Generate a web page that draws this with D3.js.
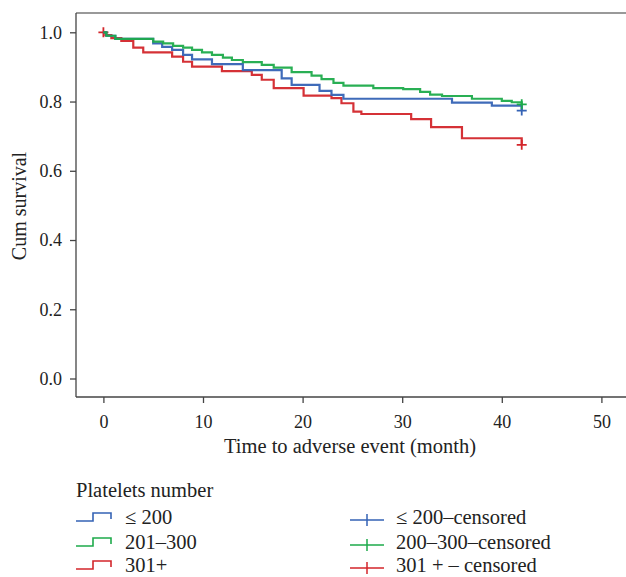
<!DOCTYPE html>
<html>
<head>
<meta charset="utf-8">
<script src="https://cdn.jsdelivr.net/npm/d3@7"></script>
<style>
  body { margin: 0; background: #fff; }
  svg text { font-family: "Liberation Serif", "DejaVu Serif", serif; fill: #222; }
</style>
</head>
<body>
<svg id="chart" width="626" height="577"></svg>
<script>
// time (month) at which each step happens, and the survival after it
var timeLow = [0, 0.3, 1.2, 5.0, 5.9, 6.9, 8.0, 8.9, 10.9, 14.0, 17.9, 18.9, 21.7, 22.9, 24.1, 35.0, 39.0, 42];
var survLow = [1.0, 0.990, 0.981, 0.968, 0.958, 0.949, 0.935, 0.922, 0.908, 0.891, 0.867, 0.848, 0.831, 0.819, 0.808, 0.797, 0.788, 0.774];

var timeMid = [0, 0.3, 1.2, 5.0, 6.0, 7.0, 8.0, 8.9, 9.9, 10.9, 12.0, 12.9, 14.0, 15.9, 17.1, 18.9, 20.9, 21.9, 23.1, 24.1, 27.1, 30.1, 31.8, 32.8, 34.0, 37.0, 40.0, 41.0, 42];
var survMid = [1.0, 0.990, 0.981, 0.973, 0.968, 0.961, 0.956, 0.949, 0.942, 0.935, 0.927, 0.920, 0.914, 0.906, 0.898, 0.885, 0.875, 0.865, 0.854, 0.846, 0.839, 0.836, 0.828, 0.820, 0.816, 0.808, 0.802, 0.798, 0.792];

var timeHigh = [0, 0.2, 0.8, 1.8, 3.0, 4.0, 6.9, 8.0, 8.9, 11.9, 14.9, 15.9, 17.1, 20.1, 22.9, 23.9, 25.1, 25.9, 30.9, 32.9, 36.0, 42];
var survHigh = [1.0, 0.992, 0.983, 0.975, 0.956, 0.942, 0.930, 0.915, 0.901, 0.888, 0.877, 0.863, 0.839, 0.817, 0.810, 0.795, 0.771, 0.764, 0.749, 0.726, 0.694, 0.675];

// censored marks
var censLowT = [42],  censLowS = [0.774];
var censMidT = [42],  censMidS = [0.792];
var censHighT = [0, 42], censHighS = [1.0, 0.675];

var groupNames = ["\u2264 200", "201\u2013300", "301+"];
var censorNames = ["\u2264 200\u2013censored", "200\u2013300\u2013censored", "301 + \u2013 censored"];
var colors = ["#3563b5", "#1eab4b", "#d3262b"];

var xTicks = [0, 10, 20, 30, 40, 50];
var yTicks = [0.0, 0.2, 0.4, 0.6, 0.8, 1.0];

var svg = d3.select("#chart");

var frameLeft = 76, frameRight = 626, frameTop = 13, frameBottom = 397;

var x = d3.scaleLinear().domain([0, 50]).range([103.4, 601.4]);
var y = d3.scaleLinear().domain([0, 1]).range([378.5, 32.3]);

// frame (no right border, lines run off the edge)
svg.append("line").attr("x1", frameLeft).attr("x2", frameRight).attr("y1", frameTop).attr("y2", frameTop)
  .attr("stroke", "#777").attr("stroke-width", 1.6);
svg.append("line").attr("x1", frameLeft).attr("x2", frameRight).attr("y1", frameBottom).attr("y2", frameBottom)
  .attr("stroke", "#444").attr("stroke-width", 1.3);
svg.append("line").attr("x1", frameLeft).attr("x2", frameLeft).attr("y1", frameTop).attr("y2", frameBottom)
  .attr("stroke", "#444").attr("stroke-width", 1.3);

// axes
var xAxis = d3.axisBottom(x).tickValues(xTicks).tickFormat(d3.format("d")).tickSize(6).tickPadding(12);
var gx = svg.append("g").attr("transform", "translate(0," + frameBottom + ")").call(xAxis);
gx.select(".domain").remove();
gx.selectAll("line").attr("stroke", "#444").attr("stroke-width", 1.3);
gx.selectAll("text").style("font-size", "18px").attr("fill", "#222");

var yAxis = d3.axisLeft(y).tickValues(yTicks).tickFormat(d3.format(".1f")).tickSize(6).tickPadding(8);
var gy = svg.append("g").attr("transform", "translate(" + frameLeft + ",0)").call(yAxis);
gy.select(".domain").remove();
gy.selectAll("line").attr("stroke", "#444").attr("stroke-width", 1.3);
gy.selectAll("text").style("font-size", "18px").attr("fill", "#222");

svg.append("text").attr("x", 350).attr("y", 453).attr("text-anchor", "middle")
  .style("font-size", "20.5px").text("Time to adverse event (month)");
svg.append("text").attr("transform", "translate(26,206) rotate(-90)").attr("text-anchor", "middle")
  .style("font-size", "20px").text("Cum survival");

// curves
var line = d3.line().x(function(d){ return x(d[0]); }).y(function(d){ return y(d[1]); }).curve(d3.curveStepAfter);

var series = [
  { t: timeLow,  s: survLow,  ct: censLowT,  cs: censLowS },
  { t: timeMid,  s: survMid,  ct: censMidT,  cs: censMidS },
  { t: timeHigh, s: survHigh, ct: censHighT, cs: censHighS }
];

// draw order: red, blue, green on top
[2, 0, 1].forEach(function(i){
  var d = series[i];
  var pts = d.t.map(function(t, k){ return [t, d.s[k]]; });
  svg.append("path").datum(pts).attr("d", line)
    .attr("fill", "none").attr("stroke", colors[i]).attr("stroke-width", 2.2)
    .attr("stroke-opacity", 0.95);
  d.ct.forEach(function(t, k){
    var cx = x(t), cy = y(d.cs[k]);
    svg.append("path").attr("d", "M" + (cx - 5) + "," + cy + "H" + (cx + 5) + "M" + cx + "," + (cy - 5) + "V" + (cy + 5))
      .attr("stroke", colors[i]).attr("stroke-width", 1.8).attr("fill", "none");
  });
});

// legend
svg.append("text").attr("x", 76).attr("y", 497).style("font-size", "20.5px").text("Platelets number");

var rowBase = [524, 549, 572];
groupNames.forEach(function(name, i){
  var b = rowBase[i];
  svg.append("path").attr("d", "M76," + (b - 3) + "H93V" + (b - 11) + "H111V" + (b - 5))
    .attr("fill", "none").attr("stroke", colors[i]).attr("stroke-width", 1.6);
  svg.append("text").attr("x", 125).attr("y", b).style("font-size", "20.5px").text(name);

  svg.append("path").attr("d", "M350," + (b - 4) + "H384M367," + (b - 10) + "V" + (b + 2))
    .attr("fill", "none").attr("stroke", colors[i]).attr("stroke-width", 1.5);
  svg.append("text").attr("x", 396).attr("y", b).style("font-size", "20.5px").text(censorNames[i]);
});
</script>
</body>
</html>
